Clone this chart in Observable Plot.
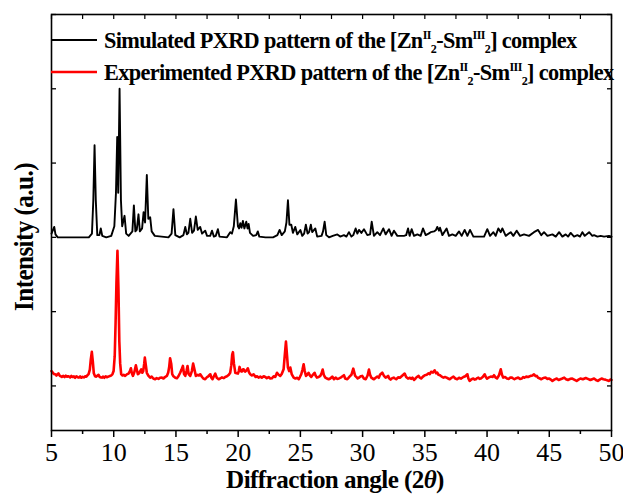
<!DOCTYPE html>
<html>
<head>
<meta charset="utf-8">
<script src="https://cdn.jsdelivr.net/npm/d3@7"></script>
<script src="https://cdn.jsdelivr.net/npm/@observablehq/plot@0.6"></script>
<style>
  html, body { margin: 0; padding: 0; background: white; }
  #chart { width: 623px; height: 495px; }
</style>
</head>
<body>
<div id="chart"></div>
<script>
// ---- tick values ----
const xMajorTicks = [5, 10, 15, 20, 25, 30, 35, 40, 45, 50];
const xMinorTicks = [7.5, 12.5, 17.5, 22.5, 27.5, 32.5, 37.5, 42.5, 47.5];
const yTicks = [0, 1, 2, 3, 4, 5];

// ---- legend / axis texts ----
const seriesNames = ["Simulated", "Experimented"];
const xTitle = ["Diffraction angle (2", "\u03B8", ")"];
const yTitle = "Intensity (a.u.)";

// ---- Simulated PXRD pattern: [2theta, intensity (offset)] ----
const simulated = [
[5.0,2.05],[5.12,2.1],[5.22,2.14],[5.32,2.04],[5.5,2.0],
[8.0,2.0],[8.25,2.05],[8.36,2.5],[8.46,3.24],[8.56,2.5],[8.68,2.03],[8.85,2.03],[8.96,2.12],[9.08,2.02],[9.4,2.0],
[9.8,2.02],[10.05,2.15],[10.18,2.6],[10.28,3.35],[10.36,2.6],[10.47,4.0],[10.58,2.5],[10.68,2.15],[10.87,2.29],[11.0,2.05],[11.2,2.02],
[11.5,2.08],[11.62,2.43],[11.74,2.08],[11.85,2.1],[11.99,2.31],[12.1,2.08],[12.28,2.12],[12.4,2.34],[12.52,2.2],[12.66,2.84],[12.78,2.25],[12.93,2.27],[13.05,2.08],[13.3,2.02],
[14.4,2.0],[14.65,2.05],[14.8,2.38],[14.95,2.03],[15.3,2.0],[15.6,2.03],[15.75,2.14],[15.88,2.04],[16.0,2.06],[16.15,2.25],[16.3,2.06],[16.45,2.09],[16.6,2.28],[16.75,2.1],[16.95,2.14],[17.1,2.05],[17.35,2.09],[17.5,2.02],
[17.75,2.02],[17.9,2.09],[18.05,2.01],[18.2,2.02],[18.37,2.11],[18.5,2.01],[19.1,2.0],[19.36,2.07],[19.5,2.05],[19.65,2.15],[19.82,2.51],[19.98,2.15],[20.07,2.12],[20.17,2.19],[20.27,2.13],[20.38,2.22],[20.5,2.12],[20.65,2.21],[20.75,2.12],[20.84,2.18],[20.95,2.06],
[21.2,2.02],[21.45,2.03],[21.58,2.08],[21.7,2.01],[22.2,2.0],[22.8,2.0],[23.15,2.03],[23.33,2.1],[23.5,2.03],[23.75,2.08],[23.88,2.2],[24.0,2.5],[24.12,2.17],[24.27,2.17],[24.4,2.06],[24.59,2.14],[24.75,2.04],[25.0,2.1],[25.15,2.02],
[25.3,2.05],[25.44,2.17],[25.58,2.05],[25.7,2.07],[25.84,2.17],[25.95,2.07],[26.2,2.12],[26.35,2.01],[26.7,2.02],[26.82,2.08],[26.95,2.21],[27.08,2.03],[27.3,2.0],[27.6,2.02],
[27.97,2.04],[28.2,2.01],[28.5,2.03],[28.7,2.01],[28.9,2.07],[29.1,2.01],[29.25,2.03],[29.44,2.12],[29.58,2.05],[29.71,2.1],[29.9,2.06],[30.11,2.11],[30.38,2.03],[30.6,2.04],[30.73,2.21],[30.91,2.02],
[31.18,2.07],[31.4,2.03],[31.66,2.12],[31.85,2.04],[32.12,2.11],[32.33,2.02],[32.52,2.09],[32.79,2.02],[33.32,2.02],[33.5,2.03],[33.65,2.12],[33.78,2.02],[33.94,2.11],[34.13,2.02],[34.4,2.04],[34.66,2.02],[34.85,2.12],[35.07,2.03],
[35.3,2.05],[35.47,2.07],[35.74,2.08],[35.9,2.1],[36.0,2.14],[36.14,2.09],[36.22,2.13],[36.41,2.03],[36.75,2.12],[36.94,2.02],[37.21,2.04],[37.48,2.02],[37.75,2.08],[37.96,2.02],[38.2,2.1],[38.42,2.02],[38.63,2.1],[38.9,2.01],
[39.76,2.01],[40.02,2.11],[40.24,2.02],[40.51,2.07],[40.69,2.02],[40.91,2.12],[41.1,2.07],[41.23,2.12],[41.5,2.02],[41.9,2.07],[42.11,2.02],[42.38,2.09],[42.65,2.02],[42.97,2.04],[43.37,2.02],[43.77,2.07],[44.1,2.1],[44.36,2.03],
[44.58,2.07],[44.85,2.02],[45.25,2.04],[45.52,2.01],[45.79,2.07],[46.05,2.01],[46.32,2.04],[46.51,2.01],[46.72,2.06],[46.99,2.01],[47.26,2.03],[47.47,2.01],[47.66,2.07],[47.85,2.02],[48.2,2.07],[48.46,2.02],[48.6,2.03],[48.87,2.01],
[49.13,2.02],[49.4,2.01],[49.8,2.02],[50.0,2.01]
];

// ---- Experimented PXRD pattern: [2theta, intensity] ----
const experimented = [
[5.0,0.2],[5.1,0.18],[5.2,0.16],[5.3,0.157],[5.4,0.14],[5.5,0.16],[5.56,0.17],[5.65,0.14],[5.75,0.13],[5.83,0.121],[5.95,0.135],[6.05,0.12],[6.15,0.138],[6.25,0.125],[6.37,0.13],[6.5,0.115],[6.6,0.135],[6.7,0.12],[6.8,0.128],[6.9,0.11],
[7.0,0.13],[7.1,0.118],[7.2,0.112],[7.3,0.128],[7.4,0.11],[7.5,0.122],[7.6,0.115],[7.71,0.13],[7.8,0.125],[7.9,0.145],[7.98,0.16],[8.08,0.22],[8.16,0.36],[8.24,0.458],[8.32,0.33],[8.4,0.17],[8.5,0.13],[8.6,0.125],[8.7,0.14],[8.78,0.15],
[8.88,0.12],[8.98,0.115],[9.05,0.112],[9.15,0.125],[9.25,0.11],[9.35,0.13],[9.45,0.118],[9.58,0.126],[9.7,0.135],[9.8,0.14],[9.9,0.16],[9.99,0.2],[10.08,0.4],[10.15,0.85],[10.22,1.4],[10.3,1.82],[10.38,1.3],[10.45,0.6],[10.52,0.3],[10.6,0.16],
[10.7,0.14],[10.8,0.15],[10.92,0.135],[11.05,0.155],[11.19,0.166],[11.3,0.2],[11.38,0.238],[11.46,0.17],[11.54,0.135],[11.65,0.18],[11.78,0.278],[11.88,0.2],[11.94,0.157],[12.05,0.17],[12.13,0.2],[12.21,0.224],[12.3,0.177],[12.37,0.2],[12.45,0.3],[12.5,0.382],
[12.58,0.28],[12.66,0.177],[12.78,0.14],[12.93,0.112],[13.05,0.125],[13.18,0.1],[13.33,0.09],[13.45,0.105],[13.6,0.095],[13.72,0.11],[13.87,0.112],[14.0,0.1],[14.12,0.12],[14.27,0.135],[14.38,0.18],[14.46,0.26],[14.53,0.373],[14.62,0.3],[14.7,0.16],[14.8,0.13],
[14.95,0.11],[15.08,0.103],[15.2,0.13],[15.34,0.177],[15.45,0.22],[15.56,0.269],[15.65,0.16],[15.75,0.135],[15.85,0.2],[15.93,0.269],[16.02,0.16],[16.15,0.135],[16.28,0.2],[16.38,0.3],[16.45,0.25],[16.6,0.135],[16.75,0.15],[16.85,0.14],[16.95,0.157],[17.1,0.12],
[17.2,0.1],[17.35,0.09],[17.5,0.12],[17.6,0.13],[17.76,0.157],[17.85,0.11],[17.94,0.09],[18.05,0.13],[18.16,0.166],[18.28,0.11],[18.43,0.09],[18.55,0.1],[18.7,0.115],[18.85,0.105],[18.96,0.121],[19.1,0.13],[19.25,0.15],[19.36,0.177],[19.45,0.28],[19.52,0.42],
[19.58,0.454],[19.66,0.3],[19.77,0.177],[19.88,0.17],[19.98,0.166],[20.05,0.2],[20.11,0.256],[20.2,0.2],[20.3,0.193],[20.37,0.22],[20.44,0.224],[20.5,0.2],[20.57,0.193],[20.68,0.21],[20.78,0.238],[20.88,0.18],[20.97,0.157],[21.1,0.14],[21.24,0.157],[21.4,0.12],
[21.52,0.13],[21.64,0.112],[21.78,0.125],[21.9,0.11],[22.05,0.13],[22.18,0.121],[22.3,0.105],[22.45,0.12],[22.58,0.1],[22.71,0.103],[22.85,0.13],[22.98,0.12],[23.12,0.177],[23.25,0.15],[23.38,0.135],[23.5,0.16],[23.65,0.224],[23.74,0.4],[23.84,0.597],[23.93,0.4],
[24.0,0.247],[24.1,0.2],[24.19,0.247],[24.3,0.16],[24.46,0.112],[24.6,0.1],[24.75,0.11],[24.86,0.09],[24.96,0.12],[25.07,0.157],[25.17,0.22],[25.26,0.292],[25.35,0.2],[25.45,0.135],[25.55,0.15],[25.66,0.177],[25.77,0.14],[25.87,0.121],[26.0,0.15],[26.14,0.177],
[26.22,0.14],[26.33,0.112],[26.47,0.12],[26.6,0.135],[26.7,0.17],[26.79,0.22],[26.88,0.15],[27.0,0.112],[27.14,0.1],[27.27,0.09],[27.4,0.1],
[27.56,0.126],[27.7,0.09],[27.83,0.112],[27.95,0.095],[28.1,0.1],[28.3,0.12],[28.5,0.144],[28.6,0.1],[28.77,0.09],[28.95,0.126],[29.1,0.15],[29.25,0.233],[29.4,0.135],[29.5,0.12],[29.6,0.1],[29.71,0.112],[29.85,0.13],[29.97,0.135],[30.1,0.1],
[30.25,0.09],[30.4,0.14],[30.51,0.22],[30.6,0.15],[30.7,0.112],[30.8,0.1],[30.91,0.09],[31.05,0.11],[31.18,0.126],[31.3,0.11],[31.4,0.15],[31.58,0.18],[31.7,0.14],[31.85,0.112],[31.95,0.12],[32.05,0.135],[32.15,0.1],[32.25,0.085],[32.38,0.105],[32.5,0.112],
[32.6,0.1],[32.7,0.09],[32.85,0.115],[33.0,0.11],[33.2,0.14],[33.38,0.166],[33.5,0.12],[33.65,0.099],[33.8,0.11],[33.9,0.095],[34.0,0.112],[34.14,0.08],[34.25,0.1],[34.35,0.12],[34.5,0.135],[34.6,0.11],[34.7,0.1],[34.85,0.125],[35.0,0.144],
[35.15,0.15],[35.3,0.17],[35.4,0.16],[35.5,0.19],[35.65,0.18],[35.79,0.211],[35.9,0.17],[36.0,0.18],[36.1,0.15],[36.22,0.144],[36.35,0.125],[36.5,0.112],[36.62,0.12],[36.75,0.112],[36.88,0.1],[37.0,0.09],[37.15,0.11],[37.3,0.126],[37.45,0.1],
[37.6,0.09],[37.75,0.11],[37.9,0.099],[38.1,0.12],[38.25,0.13],[38.42,0.157],[38.5,0.1],[38.6,0.067],[38.75,0.09],[38.9,0.1],[39.0,0.085],[39.1,0.09],[39.2,0.105],[39.3,0.112],[39.4,0.095],[39.5,0.1],[39.65,0.12],[39.81,0.157],[39.9,0.12],
[40.0,0.099],[40.15,0.115],[40.3,0.126],[40.45,0.12],[40.56,0.144],[40.7,0.11],[40.8,0.1],[40.95,0.14],[41.1,0.224],[41.2,0.15],[41.3,0.112],[41.45,0.12],[41.6,0.1],[41.75,0.095],[41.85,0.112],[42.0,0.112],[42.1,0.1],[42.2,0.09],[42.35,0.105],[42.5,0.112],
[42.65,0.095],[42.8,0.1],[42.9,0.12],[43.0,0.11],[43.15,0.125],[43.3,0.12],[43.5,0.135],[43.65,0.14],[43.77,0.157],[43.9,0.13],[44.0,0.135],[44.1,0.11],[44.25,0.1],[44.36,0.09],[44.5,0.105],[44.6,0.11],[44.7,0.112],[44.85,0.095],[45.0,0.099],
[45.12,0.085],[45.25,0.067],[45.4,0.085],[45.6,0.099],[45.75,0.08],[45.9,0.09],[46.05,0.1],[46.2,0.112],[46.35,0.09],[46.5,0.08],[46.68,0.095],[46.85,0.099],[47.0,0.085],[47.2,0.067],[47.35,0.085],[47.5,0.1],[47.7,0.09],[47.93,0.106],[48.1,0.095],
[48.3,0.08],[48.45,0.09],[48.6,0.099],[48.75,0.08],[48.9,0.067],[49.05,0.085],[49.2,0.1],[49.35,0.09],[49.5,0.085],[49.65,0.075],[49.8,0.067],[49.9,0.085],[50.0,0.08]
];

const series = [
  {name: seriesNames[0], data: simulated, color: "#000000", width: 1.9},
  {name: seriesNames[1], data: experimented, color: "#ff0000", width: 2.6}
];

const noLabel = () => "";

const chart = Plot.plot({
  width: 623,
  height: 495,
  marginLeft: 51,
  marginRight: 12,
  marginTop: 14,
  marginBottom: 65,
  x: {domain: [5, 50]},
  y: {domain: [-0.6, 5]},
  style: {fontFamily: "'Liberation Serif', 'Times New Roman', serif", color: "black", background: "white", overflow: "visible"},
  marks: [
    ...series.map(s => Plot.line(s.data, {x: d => d[0], y: d => d[1], stroke: s.color, strokeWidth: s.width, strokeLinejoin: "round"})),
    Plot.frame({stroke: "black", strokeWidth: 1.6}),
    Plot.axisX(xMajorTicks, {anchor: "bottom", tickSize: 7, tickPadding: 5, fontSize: 26, label: null, strokeWidth: 1.5, tickFormat: d => String(d)}),
    Plot.axisX(xMinorTicks, {anchor: "bottom", tickSize: 4, label: null, strokeWidth: 1.5, tickFormat: noLabel}),
    Plot.axisX(xMajorTicks.concat(xMinorTicks), {anchor: "top", tickSize: 4, dy: 4, label: null, strokeWidth: 1.2, tickFormat: noLabel}),
    Plot.axisY(yTicks, {anchor: "left", tickSize: 5, dx: 5, label: null, strokeWidth: 1.3, tickFormat: noLabel}),
    Plot.axisY(yTicks, {anchor: "right", tickSize: 5, dx: -5, label: null, strokeWidth: 1.3, tickFormat: noLabel})
  ]
});

document.getElementById("chart").appendChild(chart);

// ---- titles and legend drawn into the same SVG ----
const svg = d3.select(chart);
const serif = "'Liberation Serif', 'Times New Roman', serif";

// squeeze a text group horizontally so its width matches the target
function fitWidth(g, textSel, targetWidth, sy, anchorX, anchorY, rotate) {
  const w = textSel.node().getComputedTextLength();
  const sx = targetWidth / w;
  g.attr("transform", `translate(${anchorX},${anchorY})${rotate ? " rotate(-90)" : ""} scale(${sx},${sy})`);
}

// x title
{
  const g = svg.append("g");
  const t = g.append("text")
    .attr("text-anchor", "middle")
    .attr("font-family", serif).attr("font-weight", "bold").attr("font-size", 26)
    .attr("letter-spacing", -0.6)
    .attr("fill", "black");
  t.append("tspan").text(xTitle[0]);
  t.append("tspan").attr("font-style", "italic").text(xTitle[1]);
  t.append("tspan").text(xTitle[2]);
  fitWidth(g, t, 218, 1.0, 335, 488, false);
}

// y title
{
  const g = svg.append("g");
  const t = g.append("text")
    .attr("text-anchor", "middle")
    .attr("font-family", serif).attr("font-weight", "bold").attr("font-size", 28)
    .attr("letter-spacing", -0.6)
    .attr("fill", "black")
    .text(yTitle);
  fitWidth(g, t, 148, 1.0, 33, 237, true);
}

// legend
const legendRows = [
  {y: 40, len: 473},
  {y: 72, len: 510}
];
series.forEach((s, i) => {
  const r = legendRows[i];
  svg.append("line")
    .attr("x1", 51).attr("x2", 97).attr("y1", r.y).attr("y2", r.y)
    .attr("stroke", s.color).attr("stroke-width", s.width);
  const g = svg.append("g");
  const t = g.append("text")
    .attr("x", 0).attr("y", 0)
    .attr("text-anchor", "start")
    .attr("font-family", serif).attr("font-weight", "bold").attr("font-size", 24)
    .attr("letter-spacing", -0.7)
    .attr("fill", "black");
  t.append("tspan").text(s.name + " PXRD pattern of the [Zn");
  t.append("tspan").attr("font-size", 13).attr("dy", -9).text("II");
  t.append("tspan").attr("font-size", 13).attr("dy", 14).text("2");
  t.append("tspan").attr("dy", -5).text("-Sm");
  t.append("tspan").attr("font-size", 13).attr("dy", -9).text("III");
  t.append("tspan").attr("font-size", 13).attr("dy", 14).text("2");
  t.append("tspan").attr("dy", -5).text("] complex");
  fitWidth(g, t, r.len, 1.0, 104, r.y + 8, false);
});
</script>
</body>
</html>
